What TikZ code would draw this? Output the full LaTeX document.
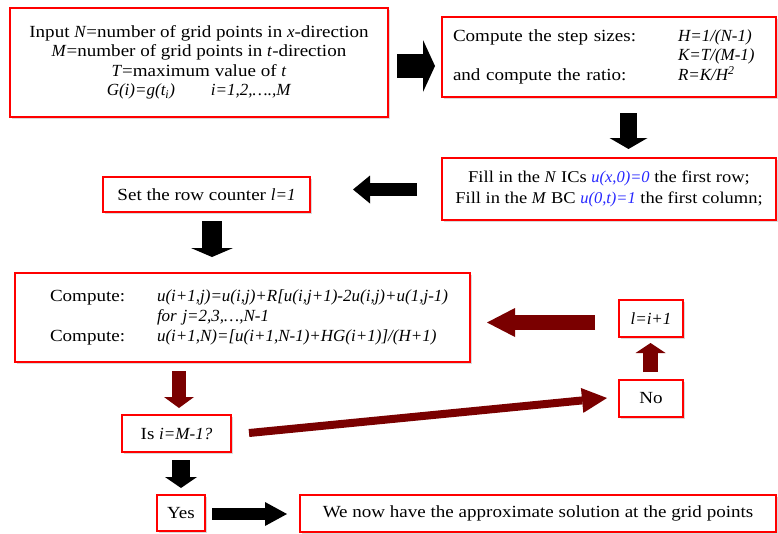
\documentclass[tikz,border=0pt]{standalone}
\usepackage{fontspec}
\setmainfont{Liberation Serif}[FakeStretch=1.12, ItalicFeatures={FakeStretch=1.0}]
\usetikzlibrary{arrows.meta,shadows}
\definecolor{boxred}{RGB}{255,0,0}
\definecolor{arrred}{RGB}{122,0,0}
\definecolor{ublue}{RGB}{40,40,255}
\begin{document}
\begin{tikzpicture}[x=1pt,y=-1pt,
  box/.style={draw=boxred, line width=2.8pt, fill=white, inner sep=0pt, outer sep=0pt,
    drop shadow={shadow xshift=1.5pt,shadow yshift=-1.5pt,opacity=0.3}},
  txt/.style={font=\fontsize{17}{19.5}\selectfont},
  fat/.style n args={4}{draw=#1, line width=#2, line cap=butt,
    -{Triangle[length=#3,width=#4,line width=0pt]}}
]
\useasboundingbox (0,0) rectangle (778,533);

% boxes
\node[box, txt, minimum width=378pt, minimum height=109pt, align=center] (input) at (199,62.5)
  {Input \textit{N}=number of grid points in \textit{x}-direction\\
   \textit{M}=number of grid points in \textit{t}-direction\\
   \textit{T}=maximum value of \textit{t}\\
   \textit{G(i)=g(t\textsubscript{i})}\hspace{36pt}\textit{i=1,2,….,M}};

\node[box, font=\fontsize{17}{19.5}\selectfont, minimum width=334pt, minimum height=80pt,
  text width=312pt, inner xsep=11pt, align=left] (step) at (609,57)
  {\raisebox{4pt}{\begin{tabular}{@{}l@{}l@{}}
   \makebox[225pt][l]{Compute the step sizes:} & \textit{H=1/(N-1)}\\
    & \textit{K=T/(M-1)}\\
   \makebox[225pt][l]{and compute the ratio:} & \textit{R=K/H\textsuperscript{2}}
   \end{tabular}}};

\node[box, font=\fontsize{16.5}{21}\selectfont, minimum width=334pt, minimum height=62pt, align=center] (fill) at (609,189)
  {Fill in the \textit{N} ICs \textcolor{ublue}{\textit{u(x,0)=0}} the first row;\\
   Fill in the \textit{M} BC \textcolor{ublue}{\textit{u(0,t)=1}} the first column;};

\node[box, txt, minimum width=207pt, minimum height=35pt] (set) at (206.5,194.5)
  {Set the row counter \textit{l=1}};

\node[box, font=\fontsize{17}{20}\selectfont, minimum width=455pt, minimum height=89pt,
  text width=385pt, inner xsep=35pt, align=left] (comp) at (242.5,317.5)
  {\raisebox{4.5pt}{\begin{tabular}{@{}l@{}l@{}}
   \makebox[107pt][l]{Compute:} & \textit{u(i+1,j)=u(i,j)+R[u(i,j+1)-2u(i,j)+u(1,j-1)}\\
    & \textit{for j=2,3,…,N-1}\\
   \makebox[107pt][l]{Compute:} & \textit{u(i+1,N)=[u(i+1,N-1)+HG(i+1)]/(H+1)}
   \end{tabular}}};

\node[box, txt, minimum width=64pt, minimum height=37pt] (upd) at (651,318.5) {\textit{l=i+1}};
\node[box, txt, minimum width=64pt, minimum height=37pt] (no) at (651,398.5) {No};
\node[box, txt, minimum width=109pt, minimum height=37pt] (isq) at (176.5,433.5) {Is \textit{i=M-1?}};
\node[box, txt, minimum width=48pt, minimum height=36pt] (yes) at (181,513) {Yes};
\node[box, txt, minimum width=476pt, minimum height=37pt] (done) at (538,513.5)
  {We now have the approximate solution at the grid points};

% connector end points
\coordinate (a1s) at (397,66);    \coordinate (a1e) at (435,66);
\coordinate (a2s) at (628.5,113); \coordinate (a2e) at (628.5,149);
\coordinate (a3s) at (417,189.5); \coordinate (a3e) at (353,189.5);
\coordinate (a4s) at (212,221);   \coordinate (a4e) at (212,257);
\coordinate (a5s) at (179,371);   \coordinate (a5e) at (179,408);
\coordinate (a6s) at (249,433);   \coordinate (a6e) at (607,398);
\coordinate (a7s) at (650.5,372); \coordinate (a7e) at (650.5,343);
\coordinate (a8s) at (595,322.5); \coordinate (a8e) at (487,322.5);
\coordinate (a9s) at (212,514);   \coordinate (a9e) at (287,514);
\coordinate (a10s) at (181,460);  \coordinate (a10e) at (181,488);

% connectors
\draw[fat={black}{24pt}{12pt}{52pt}] (a1s) -- (a1e);
\draw[fat={black}{17pt}{11pt}{38pt}] (a2s) -- (a2e);
\draw[fat={black}{13pt}{17pt}{28pt}] (a3s) -- (a3e);
\draw[fat={black}{20pt}{9pt}{42pt}] (a4s) -- (a4e);
\draw[fat={arrred}{14pt}{11pt}{30pt}] (a5s) -- (a5e);
\draw[fat={arrred}{8pt}{25pt}{25pt}] (a6s) -- (a6e);
\draw[fat={arrred}{15pt}{10pt}{30pt}] (a7s) -- (a7e);
\draw[fat={arrred}{15pt}{28pt}{29pt}] (a8s) -- (a8e);
\draw[fat={black}{12pt}{22pt}{24pt}] (a9s) -- (a9e);
\draw[fat={black}{18pt}{11pt}{32pt}] (a10s) -- (a10e);
\end{tikzpicture}
\end{document}
